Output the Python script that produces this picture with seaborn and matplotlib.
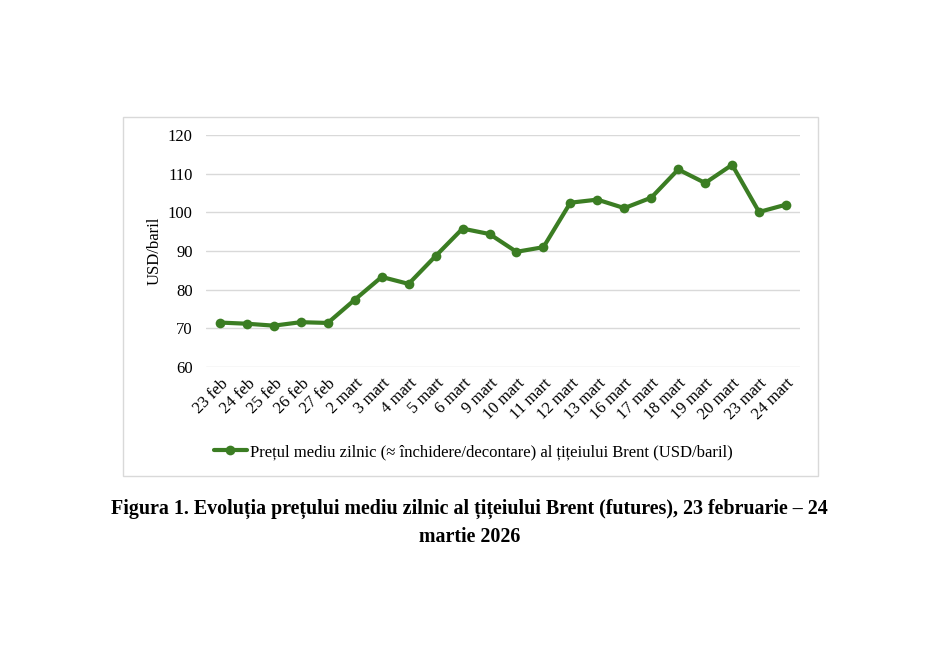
import pandas as pd
import seaborn as sns
import matplotlib.pyplot as plt
from matplotlib.patches import Rectangle

# Date (zile de tranzactionare) si pretul mediu zilnic Brent
zile = ["23 feb", "24 feb", "25 feb", "26 feb", "27 feb", "2 mart", "3 mart",
        "4 mart", "5 mart", "6 mart", "9 mart", "10 mart", "11 mart", "12 mart",
        "13 mart", "16 mart", "17 mart", "18 mart", "19 mart", "20 mart",
        "23 mart", "24 mart"]
pret = [71.5, 71.2, 70.7, 71.6, 71.4, 77.4, 83.3, 81.5, 88.7, 95.8, 94.4,
        89.8, 91.0, 102.5, 103.3, 101.1, 103.8, 111.1, 107.6, 112.3, 100.1, 102.0]
yticks = [60, 70, 80, 90, 100, 110, 120]

eticheta = "Prețul mediu zilnic (≈ închidere/decontare) al țițeiului Brent (USD/baril)"
df = pd.DataFrame({"zi": zile, "pret": pret})

sns.set_theme(style="white")
plt.rcParams["font.family"] = ["Liberation Serif", "DejaVu Serif"]
plt.rcParams["text.color"] = "black"
plt.rcParams["axes.labelcolor"] = "black"

fig = plt.figure(figsize=(9.51, 6.48), dpi=100)
verde = "#3B7D23"

# chenarul graficului
fig.patches.append(Rectangle((0.1293, 0.2654), 0.7308, 0.554, transform=fig.transFigure,
                             fill=False, edgecolor="#D9D9D9", linewidth=1.0))

ax = fig.add_axes([0.2171, 0.4336, 0.6236, 0.3580])
sns.lineplot(data=df, x="zi", y="pret", ax=ax, color=verde, linewidth=3.0,
             marker="o", markersize=7, markeredgewidth=0, label=eticheta, sort=False)

ax.set_ylim(60, 120)
ax.set_xlim(-0.5, len(zile) - 0.5)
ax.set_yticks(yticks)
ax.yaxis.grid(True, color="#D9D9D9", linewidth=1.0)
ax.set_axisbelow(True)
for s in ax.spines.values():
    s.set_visible(False)
ax.tick_params(axis="both", length=0, labelsize=12, colors="black")
ax.tick_params(axis="y", pad=10)
ax.set_xticks(range(len(zile)))
ax.set_xticklabels(zile, rotation=45, ha="right", rotation_mode="anchor")
ax.tick_params(axis="x", pad=6)
ax.set_xlabel("")
ax.set_ylabel("USD/baril", fontsize=12, labelpad=4)

ax.legend(loc="center", bbox_to_anchor=(0.4974, 0.3025), bbox_transform=fig.transFigure,
          frameon=False, fontsize=12, handlelength=2.0, handletextpad=0.15)

fig.text(0.494, 0.2175 - 0.003, "Figura 1. Evoluția prețului mediu zilnic al țițeiului Brent (futures), 23 februarie – 24",
         ha="center", va="center", fontsize=14.4, fontweight="bold")
fig.text(0.494, 0.1715, "martie 2026", ha="center", va="center", fontsize=14.4, fontweight="bold")

plt.savefig("out.png", dpi=100)
